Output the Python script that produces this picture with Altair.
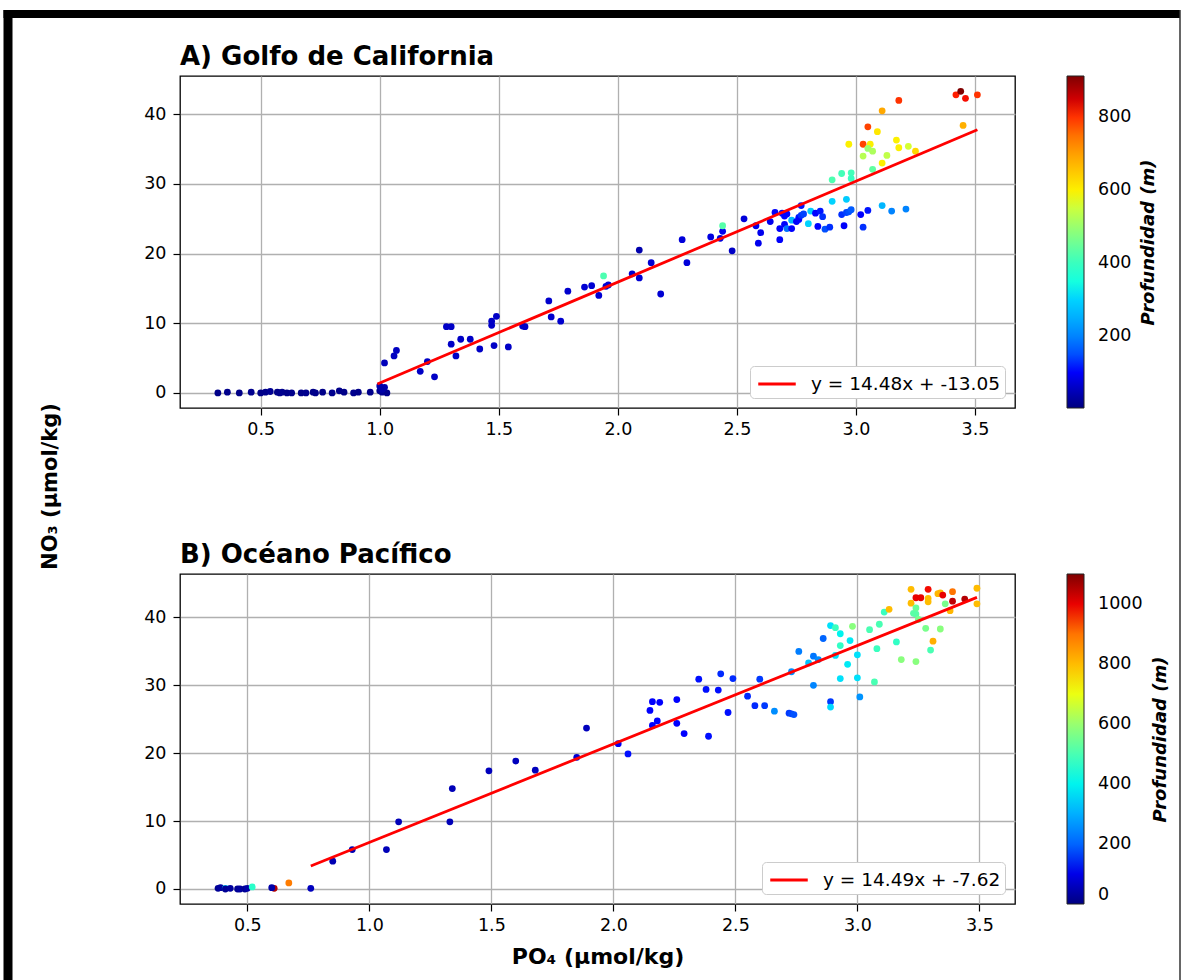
import altair as alt
import numpy as np
import pandas as pd

FONT = "DejaVu Sans"

# ---------------- Panel A: Golfo de California ----------------
GC_PO4 = [0.32, 0.36, 0.41, 0.46, 0.50, 0.52, 0.54, 0.57, 0.58, 0.59, 0.61, 0.63, 0.67, 0.69,
          0.72, 0.73, 0.76, 0.80, 0.83, 0.85, 0.89, 0.91, 0.96, 1.00, 1.01, 1.03,
          1.00, 1.02, 1.01,
          1.02, 1.06, 1.07, 1.17, 1.20, 1.23, 1.28, 1.30, 1.30, 1.32, 1.34, 1.38, 1.42, 1.47,
          1.47, 1.49, 1.48, 1.54, 1.60, 1.61, 1.71, 1.72, 1.76, 1.79, 1.86, 1.89, 1.92, 1.95,
          1.96, 1.94, 2.06, 2.09, 2.09, 2.14, 2.18, 2.27, 2.29, 2.39, 2.43, 2.44, 2.44, 2.48,
          2.53, 2.58, 2.59, 2.60, 2.64, 2.66, 2.68, 2.68, 2.69, 2.70, 2.70, 2.71, 2.71, 2.73,
          2.73, 2.75, 2.76, 2.76, 2.77, 2.77, 2.78, 2.80, 2.81, 2.83, 2.84, 2.85, 2.86, 2.87,
          2.89, 2.90, 2.90, 2.94, 2.98, 2.98, 2.95, 2.94, 2.96, 2.97, 2.98, 2.96, 3.02, 3.03,
          3.05, 2.97, 3.03, 3.05, 3.06, 3.05, 3.03, 3.07, 3.07, 3.09, 3.11, 3.11, 3.11, 3.13,
          3.15, 3.17, 3.18, 3.18, 3.22, 3.21, 3.25, 3.42, 3.44, 3.46, 3.45, 3.51]
GC_NO3 = [0.0, 0.1, 0.0, 0.1, 0.0, 0.1, 0.2, 0.1, 0.0, 0.1, 0.0, 0.0, 0.0, 0.0,
          0.1, 0.0, 0.1, 0.0, 0.3, 0.1, 0.0, 0.1, 0.1, 0.3, 0.1, 0.0,
          1.0, 0.8, 0.5,
          4.3, 5.3, 6.1, 3.1, 4.5, 2.3, 9.5, 9.5, 7.0, 5.3, 7.7, 7.7, 6.3, 9.7,
          10.3, 11.0, 6.8, 6.6, 9.6, 9.5, 13.2, 10.9, 10.3, 14.6, 15.2, 15.4, 14.0, 15.3,
          15.5, 16.8, 17.1, 16.5, 20.5, 18.7, 14.2, 22.0, 18.7, 22.4, 22.2, 23.2, 24.0, 20.4,
          25.0, 24.0, 21.5, 23.0, 24.6, 25.9, 23.6, 22.0, 25.8, 24.2, 25.4, 25.7, 23.6, 23.6,
          24.8, 24.6, 25.2, 24.9, 26.9, 25.5, 25.7, 24.3, 26.1, 25.8, 23.9, 26.1, 25.3, 23.5,
          23.8, 27.5, 30.6, 31.5, 31.6, 30.8, 24.0, 25.6, 25.9, 26.0, 26.3, 27.8, 25.6, 23.8,
          26.2, 35.7, 35.7, 38.2, 35.7, 35.1, 34.0, 34.7, 32.1, 37.5, 40.5, 33.0, 26.9, 34.1,
          26.1, 36.3, 35.2, 42.0, 35.4, 26.4, 34.7, 42.8, 43.3, 42.3, 38.4, 42.8]
GC_DEPTH = [10, 12, 8, 15, 10, 12, 18, 10, 12, 15, 10, 12, 10, 15,
            10, 12, 10, 15, 12, 10, 15, 10, 12, 20, 18, 15,
            40, 40, 35,
            50, 55, 55, 60, 60, 60, 60, 60, 60, 60, 60, 60, 60, 60,
            60, 60, 60, 60, 60, 60, 65, 65, 65, 65, 70, 70, 70, 70,
            70, 420, 70, 70, 40, 70, 70, 75, 75, 80, 80, 90, 430, 60,
            75, 90, 90, 90, 90, 100, 100, 100, 100, 100, 110, 110, 180, 110,
            260, 100, 120, 110, 120, 130, 140, 300, 290, 110, 110, 120, 130, 150,
            130, 300, 420, 410, 410, 400, 100, 130, 140, 150, 160, 290, 110, 130,
            120, 600, 790, 790, 600, 500, 530, 520, 440, 610, 690, 600, 260, 540,
            200, 600, 600, 800, 560, 200, 630, 810, 913, 820, 680, 800]
GC_FIT_X = [0.99, 3.51]
GC_SLOPE, GC_INTERCEPT = 14.48, -13.05
GC_LABEL = "y = 14.48x + -13.05"

# ---------------- Panel B: Océano Pacífico ----------------
OP_PO4 = [0.38, 0.39, 0.41, 0.41, 0.43, 0.46, 0.47, 0.49, 0.50, 0.52, 0.61, 0.60, 0.67, 0.76,
          0.85, 0.93, 1.07, 1.12, 1.33, 1.34, 1.49, 1.60, 1.68, 1.85, 1.89, 2.02, 2.06,
          2.15, 2.16, 2.19, 2.16, 2.18, 2.26, 2.26, 2.29, 2.35, 2.38, 2.39, 2.43, 2.44, 2.47,
          2.49, 2.55, 2.58, 2.60, 2.62, 2.66, 2.72, 2.73, 2.74, 2.73, 2.76, 2.80, 2.82, 2.82,
          2.84, 2.86, 2.89, 2.89, 2.89, 2.91, 2.91, 2.93, 2.93, 2.93, 2.96, 2.97, 2.98, 3.00,
          3.00, 3.01, 3.05, 3.07, 3.08, 3.09, 3.11, 3.13, 3.16, 3.18, 3.22, 3.22, 3.23, 3.24,
          3.26, 3.24, 3.24, 3.24, 3.25, 3.28, 3.29, 3.29, 3.29, 3.30, 3.31, 3.33, 3.34, 3.35,
          3.34, 3.36, 3.38, 3.39, 3.39, 3.44, 3.49, 3.49]
OP_NO3 = [0.1, 0.2, 0.1, 0.0, 0.1, 0.0, 0.0, 0.0, 0.1, 0.3, 0.1, 0.2, 0.9, 0.1,
          4.1, 5.8, 5.8, 9.9, 9.9, 14.8, 17.4, 18.85, 17.5, 19.4, 23.7, 21.4, 19.9,
          26.3, 27.6, 27.5, 24.1, 24.75, 27.9, 24.4, 22.9, 30.9, 29.4, 22.5, 29.3, 31.7, 26.0,
          31.0, 28.4, 27.0, 30.9, 27.0, 26.2, 25.9, 25.8, 25.7, 32.0, 35.0, 33.3, 34.3, 30.0,
          33.8, 36.9, 38.8, 27.6, 26.8, 38.5, 34.4, 37.6, 35.85, 31.0, 33.1, 36.6, 38.7, 34.5,
          31.1, 28.3, 38.2, 30.5, 35.4, 39.0, 40.8, 41.2, 36.4, 33.8, 44.15, 42.1, 40.6, 42.9,
          42.9, 41.4, 40.5, 33.5, 39.7, 38.4, 44.15, 42.8, 42.3, 35.2, 36.5, 43.5, 43.6, 43.3,
          38.3, 42.0, 41.0, 43.8, 42.4, 42.7, 44.3, 42.0]
OP_DEPTH = [20, 30, 380, 20, 30, 20, 30, 20, 40, 460, 1050, 40, 890, 60,
            50, 50, 55, 55, 55, 55, 60, 60, 60, 80, 60, 110, 140,
            120, 120, 120, 120, 120, 130, 130, 130, 140, 140, 140, 140, 150, 140,
            150, 150, 150, 160, 160, 250, 160, 170, 180, 250, 230, 330, 220, 240,
            250, 200, 380, 160, 370, 480, 380, 400, 470, 380, 390, 390, 580, 380,
            380, 260, 500, 500, 480, 500, 480, 800, 470, 580, 800, 800, 520, 1000,
            1000, 540, 520, 580, 560, 560, 990, 800, 800, 500, 820, 810, 810, 1000,
            580, 560, 810, 900, 1040, 1050, 800, 800]
OP_FIT_X = [0.76, 3.49]
OP_SLOPE, OP_INTERCEPT = 14.49, -7.62
OP_LABEL = "y = 14.49x + -7.62"

X_TICKS = [0.5, 1.0, 1.5, 2.0, 2.5, 3.0, 3.5]
Y_TICKS = [0, 10, 20, 30, 40]
CBAR_TICKS_A = [200, 400, 600, 800]
CBAR_TICKS_B = [0, 200, 400, 600, 800, 1000]
CBAR_LABEL = "Profundidad (m)"


# matplotlib "jet" colormap as piecewise-linear colour stops
def jet(t):
    r = np.interp(t, [0, 0.35, 0.66, 0.89, 1], [0, 0, 1, 1, 0.5])
    g = np.interp(t, [0, 0.125, 0.375, 0.64, 0.91, 1], [0, 0, 1, 1, 0, 0])
    b = np.interp(t, [0, 0.11, 0.34, 0.65, 1], [0.5, 1, 1, 0, 0])
    return "#%02x%02x%02x" % (int(round(r * 255)), int(round(g * 255)), int(round(b * 255)))


JET_STOPS = [0, 0.11, 0.125, 0.34, 0.35, 0.375, 0.64, 0.65, 0.66, 0.89, 0.91, 1.0]
JET_COLORS = [jet(t) for t in JET_STOPS]

PLOT_W = 835


def panel(po4, no3, depth, fit_x, slope, intercept, label, title, xdom, ydom, cdom,
          cticks, height, xtitle, ytitle, cbar_title_x):
    df = pd.DataFrame({"PO4": po4, "NO3": no3, "Profundidad": depth})
    fit = pd.DataFrame({"PO4": fit_x, "label": [label] * len(fit_x)})
    cstops = [cdom[0] + t * (cdom[1] - cdom[0]) for t in JET_STOPS]

    xscale = alt.Scale(domain=xdom, nice=False, zero=False)
    yscale = alt.Scale(domain=ydom, nice=False, zero=False)

    xaxis_kw = dict(values=X_TICKS, format=".1f", labelFontSize=17.5, labelFont=FONT,
                    labelColor="black", tickColor="black", tickSize=7, tickWidth=1.2,
                    labelPadding=5, domain=False, grid=True, gridColor="#b0b0b0",
                    gridWidth=1.3, labelFlush=False, orient="bottom")
    if xtitle:
        xaxis_kw.update(title=xtitle, titleFontSize=22, titleFont=FONT, titleFontWeight="bold",
                        titleColor="black", titlePadding=13)
    else:
        xaxis_kw.update(title=None)
    yaxis_kw = dict(values=Y_TICKS, format="d", labelFontSize=17.5, labelFont=FONT,
                    labelColor="black", tickColor="black", tickSize=7, tickWidth=1.2,
                    labelPadding=7, domain=False, grid=True, gridColor="#b0b0b0",
                    gridWidth=1.3, labelFlush=False)
    if ytitle:
        yaxis_kw.update(title=ytitle, titleFontSize=21, titleFont=FONT, titleFontWeight="bold",
                        titleColor="black", titleAngle=270, titleAlign="center",
                        titleBaseline="middle", titleX=-130, titleY=410)
    else:
        yaxis_kw.update(title=None)
    xaxis = alt.Axis(**xaxis_kw)
    yaxis = alt.Axis(**yaxis_kw)

    # colour-bar label, carried by a label-less top axis of the fit-line layer
    cbar_axis = alt.Axis(orient="top", labels=False, ticks=False, domain=False, grid=False,
                         title=CBAR_LABEL, titleAngle=270, titleX=cbar_title_x,
                         titleY=height / 2, titleAlign="center", titleBaseline="middle",
                         titleFont=FONT, titleFontSize=18, titleFontWeight="bold",
                         titleFontStyle="italic", titleColor="black")

    pts = alt.Chart(df).mark_circle(size=46, opacity=1).encode(
        x=alt.X("PO4:Q", scale=xscale, axis=xaxis),
        y=alt.Y("NO3:Q", scale=yscale, axis=yaxis),
        color=alt.Color(
            "Profundidad:Q",
            scale=alt.Scale(domain=cstops, range=JET_COLORS),
            legend=alt.Legend(
                orient="right", direction="vertical", offset=52, padding=0,
                gradientLength=height, gradientThickness=17,
                gradientStrokeColor="#222222", gradientStrokeWidth=1,
                values=cticks, format="d",
                labelFontSize=17.5, labelFont=FONT, labelColor="black", labelOffset=14,
                labelBaseline="middle", labelOverlap=False,
                title=None,
            ),
        ),
    )

    line = alt.Chart(fit).transform_calculate(
        NO3=f"{slope} * datum.PO4 + ({intercept})"
    ).mark_line(strokeWidth=2.8).encode(
        x=alt.X("PO4:Q", scale=xscale, axis=cbar_axis),
        y=alt.Y("NO3:Q", scale=yscale, axis=yaxis),
        stroke=alt.Stroke(
            "label:N",
            scale=alt.Scale(domain=[label], range=["#ff0000"]),
            legend=alt.Legend(
                orient="bottom-right", offset=10, padding=4, title=None,
                fillColor="white", strokeColor="#cccccc", cornerRadius=4,
                symbolType="M-1.5,0H1.5", symbolSize=625, symbolStrokeWidth=2.8,
                symbolOffset=9,
                labelFontSize=18.5, labelFont=FONT, labelColor="black", labelOffset=20,
                labelLimit=500,
            ),
        ),
    )

    return alt.layer(pts, line).resolve_axis(x="independent").properties(
        width=PLOT_W, height=height,
        title=alt.TitleParams(title, anchor="start", frame="group", fontSize=26,
                              fontWeight="bold", font=FONT, color="black", offset=6),
    )


panel_a = panel(GC_PO4, GC_NO3, GC_DEPTH, GC_FIT_X, GC_SLOPE, GC_INTERCEPT, GC_LABEL,
                "A) Golfo de California", [0.161, 3.668], [-2.17, 45.5], [3, 913],
                CBAR_TICKS_A, 332, None, "NO\u2083 (\u03bcmol/kg)", 968)
panel_b = panel(OP_PO4, OP_NO3, OP_DEPTH, OP_FIT_X, OP_SLOPE, OP_INTERCEPT, OP_LABEL,
                "B) Océano Pacífico", [0.224, 3.646], [-2.21, 46.4], [0, 1100],
                CBAR_TICKS_B, 330, "PO\u2084 (\u03bcmol/kg)", None, 980)

# decorative figure frame (thick black left/top edge, thin right edge),
# drawn from a tiny helper view placed below panel B
frame_df = pd.DataFrame({"k": [0]})
frame_base = alt.Chart(frame_df)
frame_left = frame_base.mark_rule(color="black", strokeWidth=9).encode(
    x=alt.value(-172), y=alt.value(-1060), y2=alt.value(-90))
frame_top = frame_base.mark_rule(color="black", strokeWidth=8).encode(
    x=alt.value(-176.5), x2=alt.value(1000), y=alt.value(-1056))
frame_right = frame_base.mark_rule(color="#333333", strokeWidth=1.5).encode(
    x=alt.value(1000), y=alt.value(-1060), y2=alt.value(-90))
frame = alt.layer(frame_left, frame_top, frame_right).properties(
    width=1, height=1, view=alt.ViewBackground(stroke="transparent"))

chart = alt.vconcat(panel_a, panel_b, frame, spacing=166, bounds="flush").resolve_scale(
    x="independent", y="independent", color="independent", stroke="independent"
).properties(
    autosize=alt.AutoSizeParams(type="none"),
    padding={"left": 180, "top": 76, "right": 1004, "bottom": 904},
    background="white",
).configure(
    font=FONT
).configure_view(
    stroke="black", strokeWidth=1.3
)

chart.save("out.html", embed_options={"renderer": "svg", "actions": False})
